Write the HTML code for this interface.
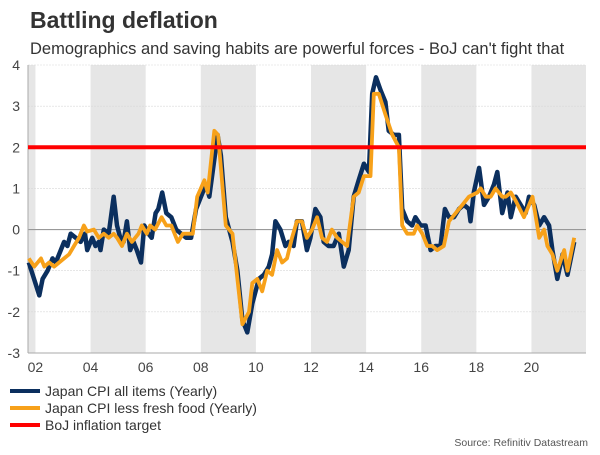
<!DOCTYPE html>
<html><head><meta charset="utf-8"><style>
body{margin:0;background:#fff;}
svg text{font-family:"Liberation Sans",sans-serif;}
</style></head><body>
<svg width="600" height="450" xmlns="http://www.w3.org/2000/svg">
<text x="30" y="28" font-size="23" font-weight="bold" fill="#333">Battling deflation</text>
<text x="30" y="54" font-size="16.5" fill="#333">Demographics and saving habits are powerful forces - BoJ can't fight that</text>
<g id="bands"></g><g id="grid"></g><g id="axes"></g><g id="series"></g>
<line x1="10" y1="391" x2="40" y2="391" stroke="#0b2f5e" stroke-width="4"/>
<text x="45" y="396" font-size="14" fill="#333">Japan CPI all items (Yearly)</text>
<line x1="10" y1="408" x2="40" y2="408" stroke="#f7a11a" stroke-width="4"/>
<text x="45" y="413" font-size="14" fill="#333">Japan CPI less fresh food (Yearly)</text>
<line x1="10" y1="425" x2="40" y2="425" stroke="#ff0000" stroke-width="4"/>
<text x="45" y="430" font-size="14" fill="#333">BoJ inflation target</text>
<text x="588" y="446" font-size="10.5" fill="#555" text-anchor="end">Source: Refinitiv Datastream</text>
</svg>
<script>
const blueYears=[2001.76,2002.14,2002.26,2002.44,2002.62,2002.74,2002.92,2003.04,2003.16,2003.28,2003.46,2003.64,2003.80,2003.88,2004.06,2004.18,2004.30,2004.36,2004.48,2004.66,2004.84,2004.96,2005.08,2005.20,2005.32,2005.44,2005.56,2005.68,2005.83,2005.95,2006.10,2006.22,2006.36,2006.46,2006.60,2006.75,2006.93,2007.11,2007.29,2007.47,2007.65,2007.83,2008.01,2008.19,2008.31,2008.49,2008.61,2008.73,2008.91,2009.15,2009.33,2009.51,2009.69,2009.87,2010.11,2010.29,2010.47,2010.59,2010.71,2010.89,2011.07,2011.19,2011.37,2011.49,2011.67,2011.85,2011.98,2012.16,2012.34,2012.46,2012.64,2012.82,2013.01,2013.19,2013.37,2013.55,2013.73,2013.92,2014.10,2014.22,2014.36,2014.52,2014.70,2014.82,2015.01,2015.19,2015.31,2015.49,2015.67,2015.79,2015.98,2016.16,2016.34,2016.52,2016.70,2016.86,2017.01,2017.19,2017.37,2017.55,2017.73,2017.79,2017.91,2018.10,2018.28,2018.46,2018.64,2018.76,2018.94,2019.13,2019.25,2019.43,2019.61,2019.79,2019.91,2020.10,2020.28,2020.46,2020.64,2020.76,2020.94,2021.13,2021.31,2021.55];
const blueValues=[-0.8,-1.6,-1.2,-1.0,-0.7,-0.8,-0.5,-0.3,-0.4,-0.1,-0.2,-0.3,-0.1,-0.5,-0.2,-0.4,-0.3,-0.5,0,-0.1,0.8,0.1,-0.2,-0.3,0.2,-0.5,-0.3,-0.5,-0.8,0.1,-0.1,-0.2,0.4,0.5,0.9,0.4,0.3,0,-0.1,-0.2,-0.2,0.5,0.8,1.1,0.8,1.7,2.3,1.8,0.3,-0.3,-1.0,-2.2,-2.5,-1.8,-1.2,-1.1,-0.9,-0.6,0.2,0,-0.4,-0.3,-0.4,0.2,0.2,-0.5,-0.2,0.5,0.3,-0.3,-0.4,-0.4,-0.1,-0.9,-0.5,0.8,1.2,1.6,1.4,3.3,3.7,3.4,3.1,2.4,2.3,2.3,0.5,0.2,0.1,0.3,0.1,0.1,-0.5,-0.4,-0.4,0.5,0.3,0.3,0.5,0.6,0.5,0.2,0.9,1.5,0.6,0.8,1.1,1.4,0.4,0.9,0.3,0.8,0.6,0.4,0.8,0.6,0.1,0.3,0.1,-0.5,-1.2,-0.6,-1.1,-0.3];
const orangeYears=[2001.76,2001.96,2002.20,2002.32,2002.50,2002.68,2002.86,2003.04,2003.22,2003.40,2003.58,2003.76,2003.88,2004.12,2004.30,2004.48,2004.66,2004.84,2004.96,2005.14,2005.32,2005.50,2005.74,2005.86,2006.04,2006.16,2006.34,2006.58,2006.75,2006.93,2007.17,2007.35,2007.71,2007.87,2008.13,2008.25,2008.49,2008.63,2008.91,2009.15,2009.33,2009.51,2009.75,2009.87,2010.05,2010.23,2010.41,2010.59,2010.77,2010.95,2011.13,2011.31,2011.49,2011.67,2011.85,2012.04,2012.22,2012.40,2012.58,2012.76,2012.95,2013.13,2013.31,2013.55,2013.73,2013.92,2014.16,2014.28,2014.46,2014.70,2014.95,2015.19,2015.31,2015.49,2015.73,2015.85,2016.04,2016.22,2016.40,2016.58,2016.82,2017.01,2017.25,2017.49,2017.73,2018.04,2018.16,2018.34,2018.52,2018.70,2018.94,2019.07,2019.25,2019.43,2019.73,2020.04,2020.28,2020.46,2020.58,2020.76,2020.94,2021.19,2021.31,2021.55];
const orangeValues=[-0.7,-0.9,-0.7,-0.9,-0.8,-0.9,-0.8,-0.7,-0.6,-0.4,-0.2,0.1,-0.05,0,-0.2,-0.1,-0.2,-0.1,-0.2,-0.4,-0.1,-0.3,-0.1,0.1,-0.1,0.1,0,0.3,0.1,0.1,-0.3,-0.1,-0.1,0.8,1.2,0.9,2.4,2.3,0.1,-0.1,-1.2,-2.3,-2.0,-1.3,-1.2,-1.5,-1.0,-1.1,-0.5,-0.8,-0.7,-0.2,0.2,0.2,-0.2,0,0.3,-0.2,-0.3,0,-0.2,-0.3,-0.4,0.8,0.9,1.3,1.3,3.3,3.3,2.8,2.3,2.0,0.1,-0.1,-0.1,0.1,-0.1,-0.4,-0.4,-0.5,-0.4,0.2,0.4,0.6,0.8,0.9,1.0,0.8,0.8,1.0,0.8,0.8,0.9,0.7,0.3,0.8,-0.2,0,-0.4,-0.6,-1.0,-0.5,-1.0,-0.2];
const targetValue=[2];
const yTicks=[4,3,2,1,0,-1,-2,-3];
const xTickYears=[2002,2004,2006,2008,2010,2012,2014,2016,2018,2020];
const xTickLabels=["02","04","06","08","10","12","14","16","18","20"];

const NS="http://www.w3.org/2000/svg";
const X0=28,X1=586,Y0=65,Y1=353,startYear=2001.73,endYear=2021.98;
const xs=y=>X0+(y-startYear)/(endYear-startYear)*(X1-X0);
const ys=v=>Y0+(4-v)/7*(Y1-Y0);
function mk(tag,attrs,parent){const e=document.createElementNS(NS,tag);for(const k in attrs)e.setAttribute(k,attrs[k]);document.getElementById(parent).appendChild(e);return e;}
// bands
const bandStarts=[startYear,2004,2008,2012,2016,2020];
const bandEnds=[2002,2006,2010,2014,2018,endYear];
bandStarts.forEach((s,i)=>{const r=mk('rect',{x:xs(s),y:Y0,width:xs(bandEnds[i])-xs(s),height:Y1-Y0,fill:'#e6e6e6'},'bands');

});
yTicks.forEach(t=>{
 const l=mk('line',{x1:X0,x2:X1,y1:ys(t),y2:ys(t),stroke:t===0?'#999':'#d8d8d8','stroke-width':t===0?1.2:0.6,'stroke-dasharray':t===0?'':'2,1'},'grid');
 
 
 const tx=mk('text',{x:20,y:ys(t)+5,'font-size':14,fill:'#444','text-anchor':'end'},'axes');tx.textContent=t;
 
 
});
const ax=mk('line',{x1:X0,x2:X0,y1:Y0,y2:Y1,stroke:'#aaa','stroke-width':1},'axes');


const bx=mk('line',{x1:X0,x2:X1,y1:Y1,y2:Y1,stroke:'#aaa','stroke-width':1},'axes');


xTickYears.forEach((yr,i)=>{
 const tx=mk('text',{x:xs(yr),y:372,'font-size':14,fill:'#444','text-anchor':'middle'},'axes');tx.textContent=xTickLabels[i];
 
 
});
function line(xa,va,color,w,name){
 const d=xa.map((x,i)=>(i?'L':'M')+xs(x).toFixed(1)+','+ys(va[i]).toFixed(1)).join('');
 const p=mk('path',{d:d,fill:'none',stroke:color,'stroke-width':w,'stroke-linejoin':'round'},'series');
 
 
}
line(blueYears,blueValues,'#0b2f5e',4.5,'series-cpi-all-items');
line(orangeYears,orangeValues,'#f7a11a',3.8,'series-cpi-less-fresh-food');
const tl=mk('line',{x1:X0,x2:X1,y1:ys(targetValue[0]),y2:ys(targetValue[0]),stroke:'#ff0000','stroke-width':4},'series');


</script>
</body></html>
